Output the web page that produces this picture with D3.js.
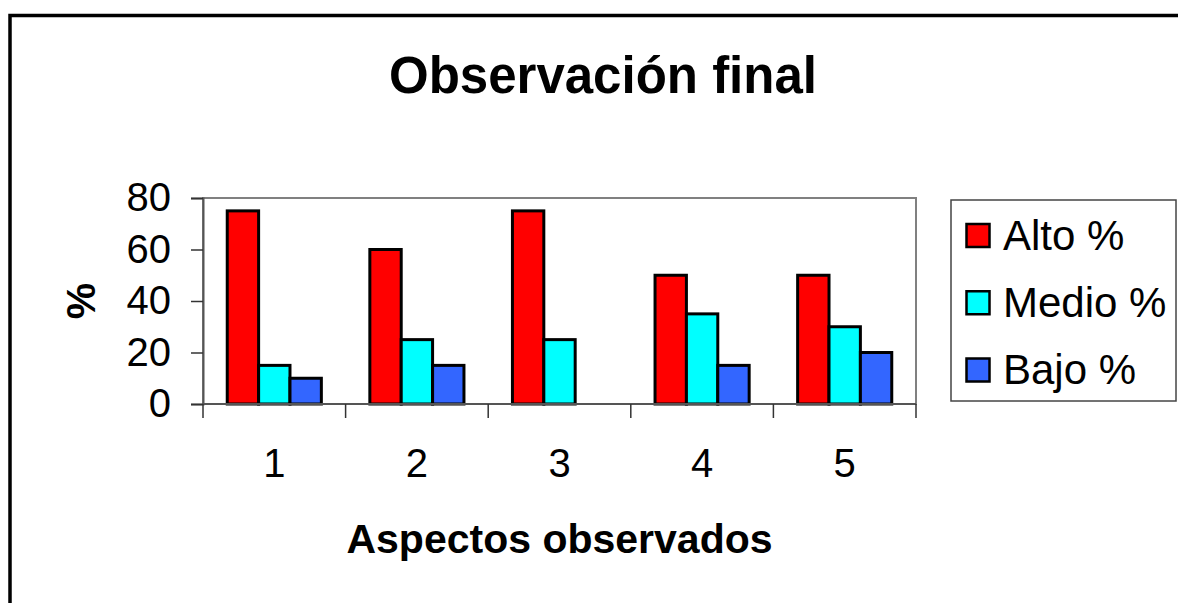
<!DOCTYPE html>
<html>
<head>
<meta charset="utf-8">
<script src="https://cdn.jsdelivr.net/npm/d3@7"></script>
<style>
  html, body { margin: 0; padding: 0; background: #fff; }
  svg { display: block; }
  text { font-family: "Liberation Sans", Arial, sans-serif; }
</style>
</head>
<body>
<svg id="chart" width="1178" height="603"></svg>
<script>
// ---- data ----
const categories = ["1", "2", "3", "4", "5"];
const seriesNames = ["Alto %", "Medio %", "Bajo %"];
const alto  = [75, 60, 75, 50, 50];
const medio = [15, 25, 25, 35, 30];
const bajo  = [10, 15, 0, 15, 20];
const yTicks = [0, 20, 40, 60, 80];
const colors = ["#FF0000", "#00FFFF", "#3366FF"];
const titleText = "Observación final";
const xTitle = "Aspectos observados";
const yTitle = "%";

const seriesValues = [alto, medio, bajo];

const svg = d3.select("#chart");

// outer chart border
svg.append("rect")
  .attr("x", 10).attr("y", 15.5)
  .attr("width", 1200).attr("height", 700)
  .attr("fill", "#fff").attr("stroke", "#000").attr("stroke-width", 3.5);

const plot = { left: 203, right: 916, top: 198, bottom: 404 };

const x0 = d3.scaleBand().domain(categories)
  .range([plot.left, plot.right])
  .paddingInner(0.34).paddingOuter(0.17);
const x1 = d3.scaleBand().domain(seriesNames)
  .range([0, x0.bandwidth()]);
const y = d3.scaleLinear().domain([0, 80]).range([plot.bottom, plot.top]);

// plot area frame
svg.append("rect")
  .attr("x", plot.left).attr("y", plot.top)
  .attr("width", plot.right - plot.left).attr("height", plot.bottom - plot.top)
  .attr("fill", "#fff").attr("stroke", "#808080").attr("stroke-width", 2);

// bars
const rows = categories.map((c, i) => ({ cat: c, vals: seriesNames.map((s, j) => ({ s, j, v: seriesValues[j][i] })) }));
const g = svg.append("g");
g.selectAll("g.grp").data(rows).join("g")
  .attr("class", "grp")
  .attr("transform", d => `translate(${x0(d.cat)},0)`)
  .selectAll("rect").data(d => d.vals.filter(e => e.v > 0)).join("rect")
  .attr("x", d => x1(d.s))
  .attr("y", d => y(d.v))
  .attr("width", x1.bandwidth())
  .attr("height", d => y(0) - y(d.v))
  .attr("fill", d => colors[d.j])
  .attr("stroke", "#000").attr("stroke-width", 3);

// y axis
const yAxis = svg.append("g")
  .attr("transform", `translate(${plot.left},0)`)
  .call(d3.axisLeft(y).tickValues(yTicks).tickSize(12).tickPadding(20).tickFormat(d3.format("d")));
yAxis.select(".domain").attr("stroke", "#555").attr("stroke-width", 2);
yAxis.selectAll(".tick line").attr("stroke", "#333").attr("stroke-width", 1.5);
yAxis.selectAll(".tick text").attr("font-size", 40).attr("fill", "#000")
  .attr("font-family", "Liberation Sans, Arial, sans-serif");

// x axis: ticks at category boundaries
const xAxisG = svg.append("g").attr("transform", `translate(0,${plot.bottom})`);
xAxisG.append("line")
  .attr("x1", plot.left).attr("x2", plot.right)
  .attr("y1", 0).attr("y2", 0)
  .attr("stroke", "#555").attr("stroke-width", 2);
const step = x0.step();
const boundaries = d3.range(categories.length + 1).map(i => plot.left + i * step);
xAxisG.selectAll("line.tk").data(boundaries).join("line")
  .attr("class", "tk")
  .attr("x1", d => d).attr("x2", d => d)
  .attr("y1", 0).attr("y2", 14)
  .attr("stroke", "#333").attr("stroke-width", 1.5);
xAxisG.selectAll("text").data(categories).join("text")
  .attr("x", d => x0(d) + x0.bandwidth() / 2)
  .attr("y", 73)
  .attr("text-anchor", "middle")
  .attr("font-size", 40)
  .text(d => d);

// titles
svg.append("text")
  .attr("x", 603).attr("y", 93)
  .attr("text-anchor", "middle")
  .attr("font-size", 51).attr("font-weight", "bold")
  .text(titleText);

svg.append("text")
  .attr("x", (plot.left + plot.right) / 2).attr("y", 553)
  .attr("text-anchor", "middle")
  .attr("font-size", 41).attr("font-weight", "bold")
  .text(xTitle);

svg.append("text")
  .attr("transform", `translate(95,${(plot.top + plot.bottom) / 2}) rotate(-90)`)
  .attr("text-anchor", "middle")
  .attr("font-size", 41).attr("font-weight", "bold")
  .text(yTitle);

// legend
const legend = svg.append("g");
legend.append("rect")
  .attr("x", 951).attr("y", 200)
  .attr("width", 225).attr("height", 201)
  .attr("fill", "#fff").attr("stroke", "#444").attr("stroke-width", 1.5);
const legRow = d3.scaleLinear().domain([0, 2]).range([235.5, 370]);
const items = legend.selectAll("g.item").data(seriesNames).join("g").attr("class", "item")
  .attr("transform", (d, i) => `translate(0,${legRow(i)})`);
items.append("rect")
  .attr("x", 966.5).attr("y", -11.5)
  .attr("width", 23).attr("height", 23)
  .attr("fill", (d, i) => colors[i])
  .attr("stroke", "#000").attr("stroke-width", 2.5);
items.append("text")
  .attr("x", 1003).attr("y", 14)
  .attr("font-size", 42)
  .text(d => d);
</script>
</body>
</html>
